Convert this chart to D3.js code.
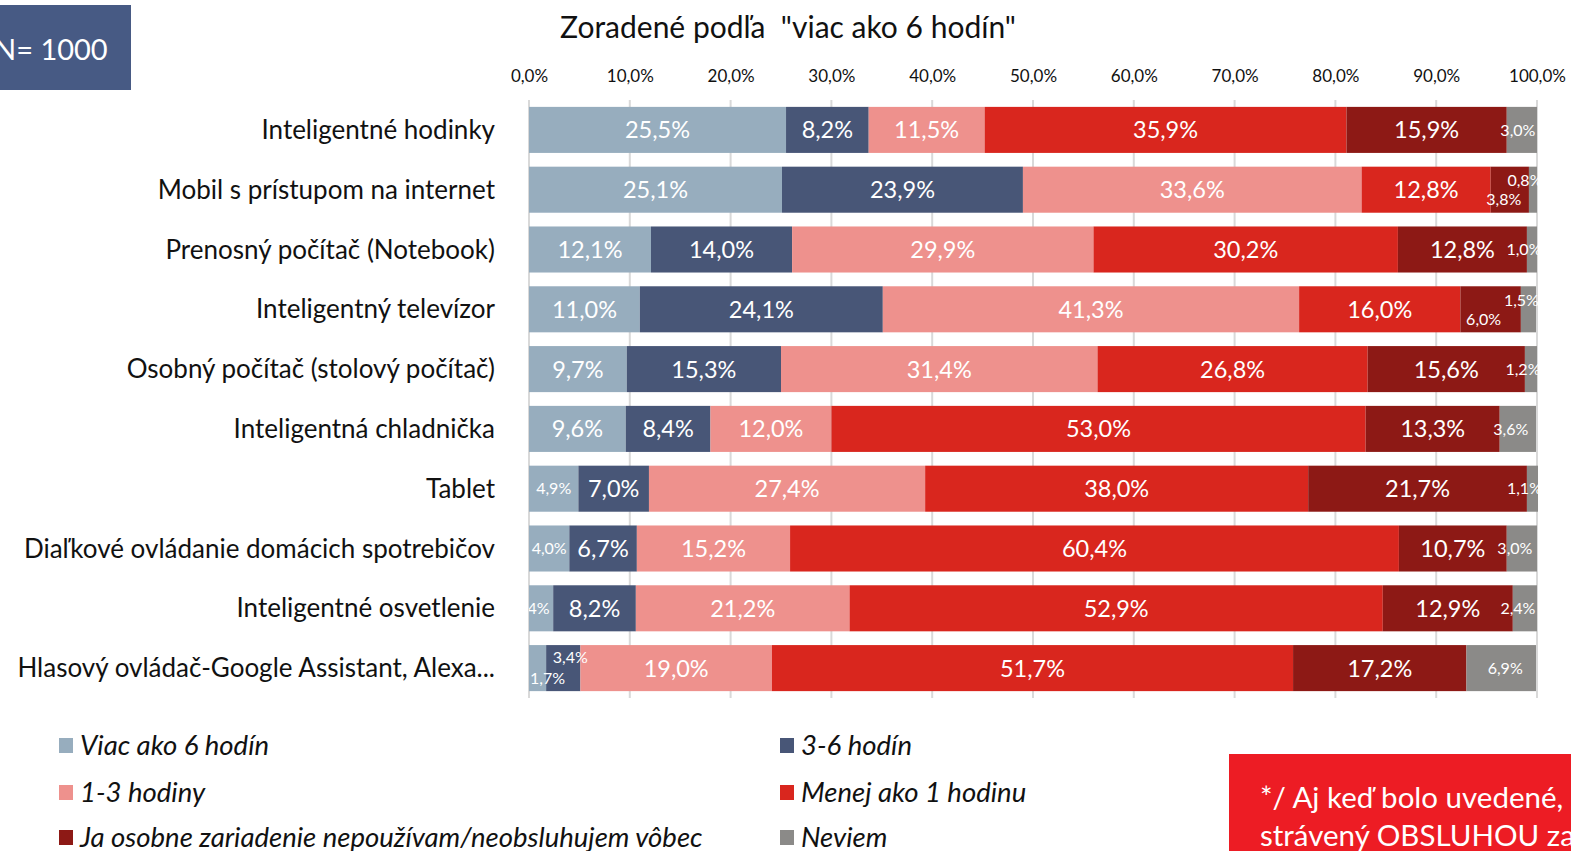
<!DOCTYPE html>
<html>
<head>
<meta charset="utf-8">
<script src="https://cdnjs.cloudflare.com/ajax/libs/d3/7.8.5/d3.min.js"></script>
<style>
    html, body { margin: 0; padding: 0; background: #fff; overflow: hidden; }
    svg { display: block; font-family: Lato, "Open Sans", sans-serif; }
    .pre { white-space: pre; }
</style>
</head>
<body>
<script>
(function() {
    // chart data
    var categories = [
        "Inteligentné hodinky",
        "Mobil s prístupom na internet",
        "Prenosný počítač (Notebook)",
        "Inteligentný televízor",
        "Osobný počítač (stolový počítač)",
        "Inteligentná chladnička",
        "Tablet",
        "Diaľkové ovládanie domácich spotrebičov",
        "Inteligentné osvetlenie",
        "Hlasový ovládač-Google Assistant, Alexa..."
    ];
    var seriesNames = [
        "Viac ako 6 hodín",
        "3-6 hodín",
        "1-3 hodiny",
        "Menej ako 1 hodinu",
        "Ja osobne zariadenie nepoužívam/neobsluhujem vôbec",
        "Neviem"
    ];
    var viac6 = [25.5, 25.1, 12.1, 11.0, 9.7, 9.6, 4.9, 4.0, 2.4, 1.7];
    var hod3to6 = [8.2, 23.9, 14.0, 24.1, 15.3, 8.4, 7.0, 6.7, 8.2, 3.4];
    var hod1to3 = [11.5, 33.6, 29.9, 41.3, 31.4, 12.0, 27.4, 15.2, 21.2, 19.0];
    var menej1 = [35.9, 12.8, 30.2, 16.0, 26.8, 53.0, 38.0, 60.4, 52.9, 51.7];
    var nepouzivam = [15.9, 3.8, 12.8, 6.0, 15.6, 13.3, 21.7, 10.7, 12.9, 17.2];
    var neviem = [3.0, 0.8, 1.0, 1.5, 1.2, 3.6, 1.1, 3.0, 2.4, 6.9];
    var tickValues = [0, 10, 20, 30, 40, 50, 60, 70, 80, 90, 100];

    var colors = ["#97adbe", "#485677", "#ee918d", "#d9261e", "#8d1915", "#8b8a88"];

    // hand placed labels for the tiny segments (row, series, dx, dy)
    var nudges = [
        [0, 5, -4, 0],
        [1, 4, -6, 10], [1, 5, -8, -9],
        [2, 5, -8, 0],
        [3, 4, -7, 10], [3, 5, -7, -9],
        [4, 5, -8, 0],
        [5, 5, -7, 0],
        [6, 5, -8, 0],
        [7, 5, -7, 0],
        [8, 0, -9, 0], [8, 5, -7, 0],
        [9, 0, 10, 10], [9, 1, 7, -11], [9, 5, 4, 0]
    ];

    var width = 1571, height = 851;
    var svg = d3.select("body").append("svg")
        .attr("width", width)
        .attr("height", height);

    // build rows for the stack
    var columns = [viac6, hod3to6, hod1to3, menej1, nepouzivam, neviem];
    var rows = categories.map(function(c, i) {
        var row = { category: c };
        seriesNames.forEach(function(s, j) { row[s] = columns[j][i]; });
        return row;
    });
    var stacked = d3.stack().keys(seriesNames)(rows);

    var x = d3.scaleLinear().domain([0, 100]).range([529, 1537]);
    var y = d3.scaleBand().domain(categories).range([100, 698])
        .paddingInner(0.23).paddingOuter(0.115);

    // title
    svg.append("text")
        .attr("class", "pre")
        .attr("x", 788)
        .attr("y", 38)
        .attr("text-anchor", "middle")
        .attr("font-size", 30)
        .attr("fill", "#111")
        .text("Zoradené podľa  \"viac ako 6 hodín\"");

    // N box
    svg.append("rect")
        .attr("x", 0).attr("y", 5)
        .attr("width", 131).attr("height", 85)
        .attr("fill", "#475a84");
    svg.append("text")
        .attr("x", -6).attr("y", 60)
        .attr("font-size", 29)
        .attr("fill", "#fff")
        .text("N= 1000");

    // gridlines
    svg.append("g")
        .selectAll("line")
        .data(tickValues)
        .enter().append("line")
        .attr("x1", function(d) { return x(d); })
        .attr("x2", function(d) { return x(d); })
        .attr("y1", 100)
        .attr("y2", 698)
        .attr("stroke", "#d9d9d9")
        .attr("stroke-width", 2);

    // top axis
    var axis = d3.axisTop(x)
        .tickValues(tickValues)
        .tickSize(0)
        .tickPadding(0)
        .tickFormat(function(d) { return d3.format(".1f")(d).replace(".", ",") + "%"; });
    var axisG = svg.append("g")
        .attr("transform", "translate(0,82)")
        .call(axis);
    axisG.select(".domain").remove();
    axisG.selectAll("text")
        .attr("font-family", "Lato, sans-serif")
        .attr("font-size", 17)
        .attr("fill", "#111");

    // category labels
    svg.append("g")
        .selectAll("text")
        .data(categories)
        .enter().append("text")
        .attr("x", 495)
        .attr("y", function(d) { return y(d) + y.bandwidth() / 2; })
        .attr("dy", "0.35em")
        .attr("text-anchor", "end")
        .attr("font-size", 26)
        .attr("fill", "#111")
        .text(function(d) { return d; });

    // bars
    var layers = svg.append("g")
        .selectAll("g")
        .data(stacked)
        .enter().append("g")
        .attr("fill", function(d, i) { return colors[i]; });

    layers.selectAll("rect")
        .data(function(d) { return d; })
        .enter().append("rect")
        .attr("x", function(d) { return x(d[0]); })
        .attr("y", function(d) { return y(d.data.category); })
        .attr("width", function(d) { return x(d[1]) - x(d[0]); })
        .attr("height", y.bandwidth());

    // value labels
    svg.append("clipPath").attr("id", "plotClip")
        .append("rect")
        .attr("x", 529).attr("y", 90)
        .attr("width", 1541 - 529).attr("height", 620);

    var labelData = [];
    stacked.forEach(function(layer, s) {
        layer.forEach(function(d, r) {
            var nudge = nudges.find(function(n) { return n[0] === r && n[1] === s; });
            labelData.push({
                value: columns[s][r],
                cx: x((d[0] + d[1]) / 2) + (nudge ? nudge[2] : 0),
                cy: y(d.data.category) + y.bandwidth() / 2 + (nudge ? nudge[3] : 0),
                small: s === 5 || columns[s][r] < 6.5
            });
        });
    });

    svg.append("g")
        .attr("clip-path", "url(#plotClip)")
        .selectAll("text")
        .data(labelData)
        .enter().append("text")
        .attr("x", function(d) { return d.cx; })
        .attr("y", function(d) { return d.cy; })
        .attr("dy", "0.36em")
        .attr("text-anchor", "middle")
        .attr("font-size", function(d) { return d.small ? 16 : 23.5; })
        .attr("fill", "#fff")
        .text(function(d) { return d3.format(".1f")(d.value).replace(".", ",") + "%"; });

    // legend
    var legendPos = [[59, 745], [780, 745], [59, 792], [780, 792], [59, 837], [780, 837]];
    var legend = svg.append("g")
        .selectAll("g")
        .data(seriesNames)
        .enter().append("g")
        .attr("transform", function(d, i) { return "translate(" + legendPos[i][0] + "," + legendPos[i][1] + ")"; });
    legend.append("rect")
        .attr("x", 0).attr("y", -7)
        .attr("width", 14).attr("height", 15)
        .attr("fill", function(d, i) { return colors[i]; });
    legend.append("text")
        .attr("x", 21)
        .attr("y", 0)
        .attr("dy", "0.35em")
        .attr("font-size", 27.5)
        .attr("font-style", "italic")
        .attr("fill", "#111")
        .text(function(d) { return d; });

    // red note box
    svg.append("rect")
        .attr("x", 1229).attr("y", 754)
        .attr("width", 400).attr("height", 120)
        .attr("fill", "#ed1c24");
    var note = svg.append("text")
        .attr("font-size", 29.5)
        .attr("fill", "#fff");
    note.append("tspan").attr("x", 1260).attr("y", 808).text("*/ Aj keď bolo uvedené, že");
    note.append("tspan").attr("x", 1260).attr("y", 846).text("strávený OBSLUHOU zariadenia");
})();
</script>
</body>
</html>
